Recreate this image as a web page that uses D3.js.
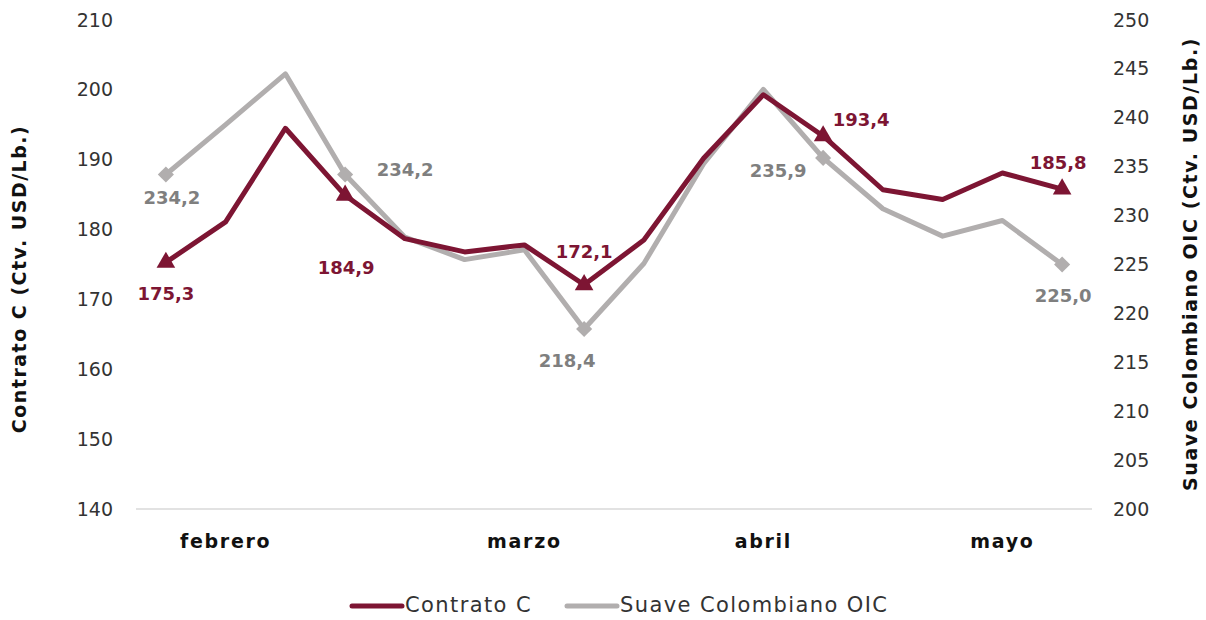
<!DOCTYPE html>
<html>
<head>
<meta charset="utf-8">
<script src="https://cdn.jsdelivr.net/npm/d3@7"></script>
<style>
  body { margin: 0; background: #fff; }
  svg { font-family: "DejaVu Sans", sans-serif; }
</style>
</head>
<body>
<div id="chart"></div>
<script>
// weekly points, month name shown under one week of each month
const weeks = d3.range(16);
const monthLabels = [
  { i: 1, name: "febrero" },
  { i: 6, name: "marzo" },
  { i: 10, name: "abril" },
  { i: 14, name: "mayo" }
];
const contratoC = [175.3, 181.1, 194.5, 184.9, 178.7, 176.8, 177.8, 172.1, 178.5, 190.2, 199.3, 193.4, 185.7, 184.3, 188.1, 185.8];
const suave = [234.2, 239.3, 244.5, 234.2, 227.8, 225.5, 226.5, 218.4, 225.1, 235.3, 242.9, 235.9, 230.7, 227.9, 229.5, 225.0];
const markerIdx = [0, 3, 7, 11, 15];
const leftTicks = [140, 150, 160, 170, 180, 190, 200, 210];
const rightTicks = [200, 205, 210, 215, 220, 225, 230, 235, 240, 245, 250];

// label offsets for the marked points (dx, dy from the point)
const redLabelPos = { 0: [0, 33], 3: [1, 74], 7: [0, -32], 11: [38, -15], 15: [-4, -25] };
const greyLabelPos = { 0: [6, 24], 3: [60, -4], 7: [-17, 33], 11: [-45, 14], 15: [1, 32] };

const red = "#7d1533", grey = "#b1aeae", greyText = "#7f7f7f";
const W = 1206, H = 620;
const m = { top: 20, left: 136, right: 114, bottom: 111 };

const svg = d3.select("#chart").append("svg").attr("width", W).attr("height", H);

const x = d3.scaleBand().domain(weeks).range([m.left, W - m.right]);
const xc = i => x(i) + x.bandwidth() / 2;
const yL = d3.scaleLinear().domain([140, 210]).range([H - m.bottom, m.top]);
const yR = d3.scaleLinear().domain([200, 250]).range([H - m.bottom, m.top]);

// baseline
svg.append("line")
  .attr("x1", m.left).attr("x2", W - m.right)
  .attr("y1", yL(140)).attr("y2", yL(140))
  .attr("stroke", "#d9d9d9").attr("stroke-width", 1.5);

// left axis
const yAxisL = d3.axisLeft(yL).tickValues(leftTicks).tickSize(0).tickPadding(0);
svg.append("g").attr("transform", "translate(113,0)").call(yAxisL)
  .call(g => g.select(".domain").remove())
  .selectAll("text").attr("font-size", 19).attr("fill", "#333").attr("font-family", "DejaVu Sans");

// right axis
const yAxisR = d3.axisRight(yR).tickValues(rightTicks).tickSize(0).tickPadding(0);
svg.append("g").attr("transform", "translate(1113,0)").call(yAxisR)
  .call(g => g.select(".domain").remove())
  .selectAll("text").attr("font-size", 19).attr("fill", "#333").attr("font-family", "DejaVu Sans");

// month labels
svg.append("g").selectAll("text").data(monthLabels).enter().append("text")
  .attr("x", d => xc(d.i)).attr("y", 548)
  .attr("text-anchor", "middle").attr("font-size", 19).attr("font-weight", "bold")
  .attr("letter-spacing", 1.7)
  .attr("fill", "#111").text(d => d.name);

// axis titles
svg.append("text")
  .attr("transform", "translate(26,279) rotate(-90)")
  .attr("text-anchor", "middle").attr("font-size", 19).attr("font-weight", "bold")
  .attr("letter-spacing", 1.5)
  .attr("fill", "#111").text("Contrato C (Ctv. USD/Lb.)");
svg.append("text")
  .attr("transform", "translate(1197,264) rotate(-90)")
  .attr("text-anchor", "middle").attr("font-size", 19).attr("font-weight", "bold")
  .attr("letter-spacing", 1.6)
  .attr("fill", "#111").text("Suave Colombiano OIC (Ctv. USD/Lb.)");

// lines
const lineL = d3.line().x((d, i) => xc(i)).y(d => yL(d));
const lineR = d3.line().x((d, i) => xc(i)).y(d => yR(d));

svg.append("path").datum(suave).attr("d", lineR)
  .attr("fill", "none").attr("stroke", grey).attr("stroke-width", 5).attr("stroke-linejoin", "round");
svg.append("path").datum(contratoC).attr("d", lineL)
  .attr("fill", "none").attr("stroke", red).attr("stroke-width", 5).attr("stroke-linejoin", "round");

// markers
svg.append("g").selectAll("path").data(markerIdx).enter().append("path")
  .attr("d", d3.symbol(d3.symbolSquare, 130))
  .attr("transform", i => `translate(${xc(i)},${yR(suave[i])}) rotate(45)`)
  .attr("fill", grey);
svg.append("g").selectAll("path").data(markerIdx).enter().append("path")
  .attr("d", d3.symbol(d3.symbolTriangle, 150))
  .attr("transform", i => `translate(${xc(i)},${yL(contratoC[i])})`)
  .attr("fill", red);

// data labels
const fmt = v => d3.format(".1f")(v).replace(".", ",");
svg.append("g").selectAll("text").data(markerIdx).enter().append("text")
  .attr("x", i => xc(i) + greyLabelPos[i][0])
  .attr("y", i => yR(suave[i]) + greyLabelPos[i][1])
  .attr("text-anchor", "middle").attr("dominant-baseline", "middle")
  .attr("font-size", 18).attr("font-weight", "bold").attr("fill", greyText)
  .text(i => fmt(suave[i]));
svg.append("g").selectAll("text").data(markerIdx).enter().append("text")
  .attr("x", i => xc(i) + redLabelPos[i][0])
  .attr("y", i => yL(contratoC[i]) + redLabelPos[i][1])
  .attr("text-anchor", "middle").attr("dominant-baseline", "middle")
  .attr("font-size", 18).attr("font-weight", "bold").attr("fill", red)
  .text(i => fmt(contratoC[i]));

// legend
const legend = svg.append("g").attr("transform", "translate(0,606)");
const items = [
  { name: "Contrato C", color: red, x: 352 },
  { name: "Suave Colombiano OIC", color: grey, x: 567 }
];
items.forEach(it => {
  legend.append("line").attr("x1", it.x).attr("x2", it.x + 50)
    .attr("stroke", it.color).attr("stroke-width", 5).attr("stroke-linecap", "round");
  legend.append("text").attr("x", it.x + 53).attr("y", 0)
    .attr("dominant-baseline", "middle").attr("font-size", 21).attr("fill", "#333")
    .attr("letter-spacing", 1.4)
    .text(it.name);
});
</script>
</body>
</html>
